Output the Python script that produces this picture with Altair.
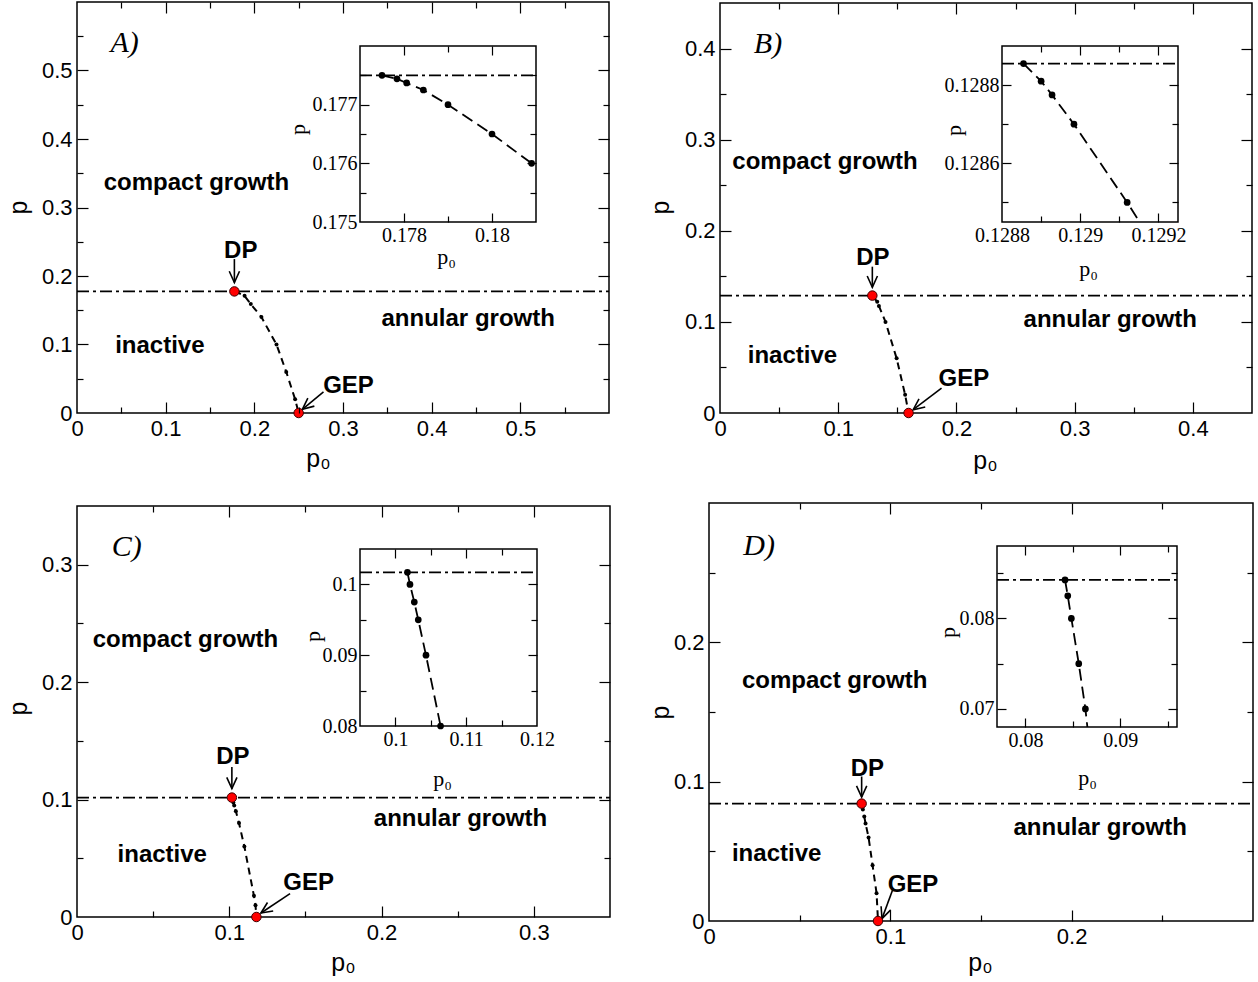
import math
import altair as alt
import pandas as pd

W, H = 1258, 982

# ------------------------------------------------------------------ data
# Panel A
A_main_p0 = [0.1775, 0.17784, 0.17806, 0.17844, 0.1790, 0.1800, 0.1809, 0.189, 0.196, 0.208, 0.225, 0.236, 0.246, 0.250]
A_main_p = [0.1775, 0.17744, 0.17737, 0.17725, 0.1770, 0.1765, 0.1760, 0.171, 0.159, 0.140, 0.100, 0.060, 0.020, 0.0]
A_ins_p0 = [0.1775, 0.17784, 0.17806, 0.17844, 0.1790, 0.1800, 0.1809]
A_ins_p = [0.1775, 0.17744, 0.17737, 0.17725, 0.1770, 0.1765, 0.1760]
A_ins_line_p0 = A_ins_p0
A_ins_line_p = A_ins_p
A_dp = [0.1775, 0.1775]
A_gep = [0.250, 0.0]
A_level = 0.1775
A_region_text = ["compact growth", "inactive", "annular growth"]
A_region_p0 = [0.1347, 0.0934, 0.4412]
A_region_p = [0.326, 0.0882, 0.1265]
A_pt_text = ["DP", "GEP"]
A_pt_p0 = [0.1847, 0.3062]
A_pt_p = [0.2262, 0.0288]
A_letter = "A)"
A_letter_pos = [0.0537, 0.5273]
A_arrow_from = [[0.1775, 0.2247], [0.278, 0.0307]]
A_arrow_to = [[0.1775, 0.1905], [0.2542, 0.0054]]
A_x_labels = [0, 0.1, 0.2, 0.3, 0.4, 0.5]
A_y_labels = [0, 0.1, 0.2, 0.3, 0.4, 0.5]
A_major = [0.1, 0.2, 0.3, 0.4, 0.5]
A_minor = [0.05, 0.15, 0.25, 0.35, 0.45, 0.55]
A_ins_x_labels = [0.178, 0.18]
A_ins_y_labels = [0.175, 0.176, 0.177]
A_ins_x_major = [0.178, 0.18]
A_ins_x_minor = [0.179]
A_ins_y_major = [0.176, 0.177]
A_ins_y_minor = [0.1755, 0.1765, 0.1775]

# Panel B
B_main_p0 = [0.128855, 0.1289, 0.128928, 0.128984, 0.12912, 0.133, 0.1344, 0.140, 0.1494, 0.1566, 0.1595]
B_main_p = [0.128855, 0.12881, 0.128775, 0.1287, 0.1285, 0.122, 0.1175, 0.100, 0.060, 0.020, 0.0]
B_ins_p0 = [0.128855, 0.1289, 0.128928, 0.128984, 0.12912]
B_ins_p = [0.128855, 0.12881, 0.128775, 0.1287, 0.1285]
B_ins_line_p0 = [0.128855, 0.1289, 0.128928, 0.128984, 0.12912, 0.129152]
B_ins_line_p = [0.128855, 0.12881, 0.128775, 0.1287, 0.1285, 0.12845]
B_dp = [0.128855, 0.128855]
B_gep = [0.1595, 0.0]
B_level = 0.128855
B_region_text = ["compact growth", "inactive", "annular growth"]
B_region_p0 = [0.0888, 0.0613, 0.3301]
B_region_p = [0.2683, 0.0548, 0.0945]
B_pt_text = ["DP", "GEP"]
B_pt_p0 = [0.1293, 0.2063]
B_pt_p = [0.1624, 0.0291]
B_letter = "B)"
B_letter_pos = [0.0406, 0.3954]
B_arrow_from = [[0.128855, 0.1606], [0.1874, 0.0274]]
B_arrow_to = [[0.128855, 0.138], [0.1634, 0.0036]]
B_x_labels = [0, 0.1, 0.2, 0.3, 0.4]
B_y_labels = [0, 0.1, 0.2, 0.3, 0.4]
B_major = [0.1, 0.2, 0.3, 0.4]
B_minor = [0.05, 0.15, 0.25, 0.35]
B_ins_x_labels = [0.1288, 0.129, 0.1292]
B_ins_y_labels = [0.1286, 0.1288]
B_ins_x_major = [0.129, 0.1292]
B_ins_x_minor = [0.1289, 0.1291]
B_ins_y_major = [0.1286, 0.1288]
B_ins_y_minor = [0.1285, 0.1287]

# Panel C
C_main_p0 = [0.1017, 0.10206, 0.10267, 0.10323, 0.10432, 0.10638, 0.1099, 0.1162, 0.1172, 0.1178]
C_main_p = [0.1017, 0.1000, 0.0975, 0.0950, 0.0900, 0.0800, 0.0600, 0.0180, 0.0100, 0.0]
C_ins_p0 = [0.1017, 0.10206, 0.10267, 0.10323, 0.10432, 0.10638]
C_ins_p = [0.1017, 0.1000, 0.0975, 0.0950, 0.0900, 0.0800]
C_ins_line_p0 = C_ins_p0
C_ins_line_p = C_ins_p
C_dp = [0.1017, 0.1017]
C_gep = [0.1178, 0.0]
C_level = 0.1017
C_region_text = ["compact growth", "inactive", "annular growth"]
C_region_p0 = [0.0712, 0.056, 0.2518]
C_region_p = [0.2298, 0.0468, 0.0772]
C_pt_text = ["DP", "GEP"]
C_pt_p0 = [0.1024, 0.1521]
C_pt_p = [0.1306, 0.0227]
C_letter = "C)"
C_letter_pos = [0.0326, 0.307]
C_arrow_from = [[0.1017, 0.1277], [0.1399, 0.0199]]
C_arrow_to = [[0.1017, 0.1093], [0.1208, 0.0034]]
C_x_labels = [0, 0.1, 0.2, 0.3]
C_y_labels = [0, 0.1, 0.2, 0.3]
C_major = [0.1, 0.2, 0.3]
C_minor = [0.05, 0.15, 0.25]
C_ins_x_labels = [0.1, 0.11, 0.12]
C_ins_y_labels = [0.08, 0.09, 0.1]
C_ins_x_major = [0.1, 0.11]
C_ins_x_minor = [0.105, 0.115]
C_ins_y_major = [0.09, 0.1]
C_ins_y_minor = [0.085, 0.095]

# Panel D
D_main_p0 = [0.08418, 0.08447, 0.08485, 0.08563, 0.08633, 0.0880, 0.0902, 0.0924, 0.0932]
D_main_p = [0.08425, 0.0825, 0.0800, 0.0750, 0.0700, 0.0600, 0.0400, 0.0200, 0.0]
D_ins_p0 = [0.08418, 0.08447, 0.08485, 0.08563, 0.08633]
D_ins_p = [0.08425, 0.0825, 0.0800, 0.0750, 0.0700]
D_ins_line_p0 = [0.08418, 0.08447, 0.08485, 0.08563, 0.08633, 0.08654]
D_ins_line_p = [0.08425, 0.0825, 0.0800, 0.0750, 0.0700, 0.068]
D_dp = [0.08418, 0.08425]
D_gep = [0.0932, 0.0]
D_level = 0.08425
D_region_text = ["compact growth", "inactive", "annular growth"]
D_region_p0 = [0.0693, 0.0373, 0.2157]
D_region_p = [0.1673, 0.0428, 0.0615]
D_pt_text = ["DP", "GEP"]
D_pt_p0 = [0.0873, 0.1125]
D_pt_p = [0.1044, 0.0208]
D_letter = "D)"
D_letter_pos = [0.0276, 0.2629]
D_arrow_from = [[0.08418, 0.1037], [0.1015, 0.0232]]
D_arrow_to = [[0.08418, 0.0889], [0.0954, 0.0017]]
D_x_labels = [0, 0.1, 0.2]
D_y_labels = [0, 0.1, 0.2]
D_major = [0.1, 0.2]
D_minor = [0.05, 0.15, 0.25]
D_ins_x_labels = [0.08, 0.09]
D_ins_y_labels = [0.07, 0.08]
D_ins_x_major = [0.08, 0.09]
D_ins_x_minor = [0.085, 0.095]
D_ins_y_major = [0.07, 0.08]
D_ins_y_minor = [0.075, 0.085]

# ------------------------------------------------------------------ layout (pixels)
LAYOUT = {
    "A": dict(main=dict(xdom=[0, 0.6], ydom=[0, 0.6], xr=[77, 609], yr=[413, 2], xt=[318, 458], yt=[18, 207]),
              ins=dict(xdom=[0.177, 0.181], ydom=[0.175, 0.178], xr=[360, 536], yr=[222, 46], xt=[446, 256], yt=[297, 129])),
    "B": dict(main=dict(xdom=[0, 0.45], ydom=[0, 0.45], xr=[720, 1252], yr=[413, 3], xt=[985, 460], yt=[660, 207]),
              ins=dict(xdom=[0.1288, 0.12925], ydom=[0.12845, 0.1289], xr=[1002, 1178], yr=[222, 46], xt=[1088, 268], yt=[953, 130])),
    "C": dict(main=dict(xdom=[0, 0.35], ydom=[0, 0.35], xr=[77, 610], yr=[917, 506], xt=[343, 962], yt=[18, 708]),
              ins=dict(xdom=[0.095, 0.12], ydom=[0.08, 0.105], xr=[360, 537], yr=[726, 549], xt=[442, 778], yt=[312, 636])),
    "D": dict(main=dict(xdom=[0, 0.3], ydom=[0, 0.3], xr=[709, 1253], yr=[921, 503], xt=[980, 962], yt=[660, 712]),
              ins=dict(xdom=[0.077, 0.096], ydom=[0.068, 0.088], xr=[997, 1177], yr=[727, 546], xt=[1087, 777], yt=[947, 632])),
}

MAIN_ST = dict(font="Liberation Sans", lfs=22, tfs=25, lpx=5, lpy=5, maj=11, mn=6)
INS_ST = dict(font="Liberation Serif", lfs=20, tfs=22, lpx=3, lpy=3, maj=9, mn=6)

DASHDOT = [12, 4, 3, 4]
ARROW = "M -0.5 -1.1 L 0 0 L 0.5 -1.1"


def sc(dom, rng):
    return alt.Scale(domain=list(dom), range=list(rng), nice=False, zero=False)


def xy(box, xf="x", yf="y"):
    return dict(x=alt.X(f"{xf}:Q", scale=sc(box["xdom"], box["xr"]), axis=None),
                y=alt.Y(f"{yf}:Q", scale=sc(box["ydom"], box["yr"]), axis=None))


def frame(box, fill):
    df = pd.DataFrame({"x": [box["xdom"][0]], "x2": [box["xdom"][1]],
                       "y": [box["ydom"][0]], "y2": [box["ydom"][1]]})
    kw = dict(stroke="black", strokeWidth=1.5)
    if fill:
        kw["fill"] = "white"
    else:
        kw["fillOpacity"] = 0
    return alt.Chart(df).mark_rect(**kw).encode(x2=alt.X2("x2:Q"), y2=alt.Y2("y2:Q"), **xy(box))


def level_rule(box, level):
    df = pd.DataFrame({"x": [box["xdom"][0]], "x2": [box["xdom"][1]], "y": [level]})
    return alt.Chart(df).mark_rule(color="black", strokeWidth=1.8, strokeDash=DASHDOT).encode(
        x2=alt.X2("x2:Q"), **xy(box))


def curve(box, xs, ys, dash, width):
    df = pd.DataFrame({"x": xs, "y": ys, "i": list(range(len(xs)))})
    return alt.Chart(df).mark_line(color="black", strokeWidth=width, strokeDash=dash).encode(
        order="i:Q", **xy(box))


def dots(box, xs, ys, size):
    df = pd.DataFrame({"x": xs, "y": ys})
    return alt.Chart(df).mark_circle(color="black", size=size, opacity=1).encode(**xy(box))


def red(box, pts):
    df = pd.DataFrame({"x": [p[0] for p in pts], "y": [p[1] for p in pts]})
    return alt.Chart(df).mark_point(shape="circle", filled=True, fill="#ff0000", stroke="#400000",
                                    strokeWidth=1, size=90, opacity=1).encode(**xy(box))


def arrows(box, frm, to):
    sx = (box["xr"][1] - box["xr"][0]) / (box["xdom"][1] - box["xdom"][0])
    sy = (box["yr"][0] - box["yr"][1]) / (box["ydom"][1] - box["ydom"][0])
    ang = []
    for f, t in zip(frm, to):
        dx = (t[0] - f[0]) * sx
        dy = -(t[1] - f[1]) * sy
        ang.append(math.degrees(math.atan2(-dx, dy)) % 360)
    df = pd.DataFrame({"x": [f[0] for f in frm], "y": [f[1] for f in frm],
                       "x2": [t[0] for t in to], "y2": [t[1] for t in to]})
    heads = pd.DataFrame({"x": [t[0] for t in to], "y": [t[1] for t in to], "a": ang})
    line = alt.Chart(df).mark_rule(color="black", strokeWidth=1.6).encode(
        x2=alt.X2("x2:Q"), y2=alt.Y2("y2:Q"), **xy(box))
    head = alt.Chart(heads).mark_point(shape=ARROW, filled=False, color="black", strokeWidth=1.6,
                                       size=420, opacity=1).encode(angle=alt.Angle("a:Q", scale=None), **xy(box))
    return [line, head]


def texts(box, xs, ys, labels, **mk):
    df = pd.DataFrame({"x": xs, "y": ys, "t": labels})
    return alt.Chart(df).mark_text(color="black", align="center", baseline="alphabetic", **mk).encode(
        text="t:N", **xy(box))


def ghost(box, xaxis, yaxis):
    df = pd.DataFrame({"x": [box["xdom"][0]], "y": [box["ydom"][0]]})
    return alt.Chart(df).mark_point(opacity=0, size=1).encode(
        x=alt.X("x:Q", scale=sc(box["xdom"], box["xr"]), axis=xaxis),
        y=alt.Y("y:Q", scale=sc(box["ydom"], box["yr"]), axis=yaxis))


def tick_axis(orient, offset, values, size):
    return alt.Axis(orient=orient, offset=offset, values=values, ticks=True, tickSize=size, tickWidth=1.2,
                    tickColor="black", labels=False, domain=False, grid=False, title=None, zindex=2)


def box_axes(box, st, xlab, ylab, xmaj, ymaj, xmin, ymin):
    xr, yr = box["xr"], box["yr"]
    common = dict(ticks=False, domain=False, grid=False, labelFont=st["font"], labelFontSize=st["lfs"],
                  labelColor="black", labelFlush=False, labelOverlap=False, labelBound=False, format="~g",
                  titleFont=st["font"], titleFontSize=st["tfs"], titleFontWeight="normal", titleColor="black",
                  titleAlign="center", titleBaseline="middle", zindex=2)
    xaxis = alt.Axis(orient="bottom", offset=yr[0] - H, values=xlab, labelPadding=st["lpy"],
                     title="p\u2080", titleX=box["xt"][0], titleY=box["xt"][1] - yr[0], titleAngle=0, **common)
    yaxis = alt.Axis(orient="left", offset=-xr[0], values=ylab, labelPadding=st["lpx"],
                     title="p", titleX=box["yt"][0] - xr[0], titleY=box["yt"][1], titleAngle=270, **common)
    out = [ghost(box, xaxis, yaxis)]
    for vx, vy, size in [(xmaj, ymaj, st["maj"]), (xmin, ymin, st["mn"])]:
        out.append(ghost(box, tick_axis("top", -yr[0], vx, size), tick_axis("right", xr[0] - W, vy, size)))
        out.append(ghost(box, tick_axis("bottom", yr[1] - H, vx, size), tick_axis("left", -xr[1], vy, size)))
    return out


PANELS = [
    ("A", A_main_p0, A_main_p, A_ins_p0, A_ins_p, A_ins_line_p0, A_ins_line_p, A_dp, A_gep, A_level,
     A_region_text, A_region_p0, A_region_p, A_pt_text, A_pt_p0, A_pt_p, A_letter, A_letter_pos,
     A_arrow_from, A_arrow_to, A_x_labels, A_y_labels, A_major, A_minor,
     A_ins_x_labels, A_ins_y_labels, A_ins_x_major, A_ins_x_minor, A_ins_y_major, A_ins_y_minor),
    ("B", B_main_p0, B_main_p, B_ins_p0, B_ins_p, B_ins_line_p0, B_ins_line_p, B_dp, B_gep, B_level,
     B_region_text, B_region_p0, B_region_p, B_pt_text, B_pt_p0, B_pt_p, B_letter, B_letter_pos,
     B_arrow_from, B_arrow_to, B_x_labels, B_y_labels, B_major, B_minor,
     B_ins_x_labels, B_ins_y_labels, B_ins_x_major, B_ins_x_minor, B_ins_y_major, B_ins_y_minor),
    ("C", C_main_p0, C_main_p, C_ins_p0, C_ins_p, C_ins_line_p0, C_ins_line_p, C_dp, C_gep, C_level,
     C_region_text, C_region_p0, C_region_p, C_pt_text, C_pt_p0, C_pt_p, C_letter, C_letter_pos,
     C_arrow_from, C_arrow_to, C_x_labels, C_y_labels, C_major, C_minor,
     C_ins_x_labels, C_ins_y_labels, C_ins_x_major, C_ins_x_minor, C_ins_y_major, C_ins_y_minor),
    ("D", D_main_p0, D_main_p, D_ins_p0, D_ins_p, D_ins_line_p0, D_ins_line_p, D_dp, D_gep, D_level,
     D_region_text, D_region_p0, D_region_p, D_pt_text, D_pt_p0, D_pt_p, D_letter, D_letter_pos,
     D_arrow_from, D_arrow_to, D_x_labels, D_y_labels, D_major, D_minor,
     D_ins_x_labels, D_ins_y_labels, D_ins_x_major, D_ins_x_minor, D_ins_y_major, D_ins_y_minor),
]

layers = []
for (key, mp0, mp, ip0, ip, ilp0, ilp, dp, gep, level, rtext, rp0, rp, ptext, pp0, pp, letter, lpos,
     afrom, ato, xlab, ylab, maj, mnr, ixlab, iylab, ixmaj, ixmin, iymaj, iymin) in PANELS:
    M = LAYOUT[key]["main"]
    I = LAYOUT[key]["ins"]
    layers.append(frame(M, False))
    layers.append(level_rule(M, level))
    layers.append(curve(M, mp0, mp, [7, 5], 2))
    layers.append(dots(M, mp0, mp, 16))
    layers.extend(arrows(M, afrom, ato))
    layers.append(red(M, [dp, gep]))
    layers.append(texts(M, rp0, rp, rtext, font="Liberation Sans", fontSize=24, fontWeight="bold"))
    layers.append(texts(M, pp0, pp, ptext, font="Liberation Sans", fontSize=24, fontWeight="bold"))
    layers.append(texts(M, [lpos[0]], [lpos[1]], [letter], font="Liberation Serif", fontSize=30,
                        fontStyle="italic"))
    layers.append(frame(I, True))
    layers.append(level_rule(I, level))
    layers.append(curve(I, ilp0, ilp, [12, 6], 1.8))
    layers.append(dots(I, ip0, ip, 45))
    layers.extend(box_axes(M, MAIN_ST, xlab, ylab, maj, maj, mnr, mnr))
    layers.extend(box_axes(I, INS_ST, ixlab, iylab, ixmaj, iymaj, ixmin, iymin))

chart = alt.layer(*layers).resolve_scale(x="independent", y="independent").properties(
    width=W, height=H, padding=0, autosize="none"
).configure_view(stroke=None)

chart.save("out.html", embed_options={"renderer": "svg", "actions": False})
